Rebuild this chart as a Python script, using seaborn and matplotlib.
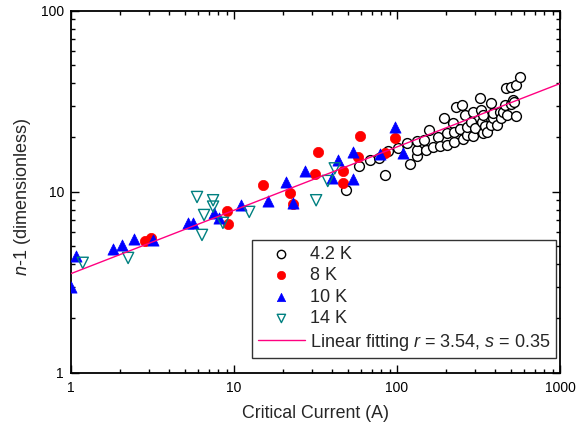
import numpy as np
import pandas as pd
import seaborn as sns
import matplotlib
matplotlib.use('Agg')
import matplotlib.pyplot as plt
from matplotlib.ticker import LogLocator, NullFormatter, FixedFormatter, FixedLocator

# data (critical current in A, n-1)
ic_42K = [48.7, 58.4, 68.4, 77.6, 84.3, 88.2, 101, 114.8, 121, 133, 133, 133, 146, 150,
          157, 167, 178, 184, 194, 202, 202, 220, 225, 225, 230, 250, 243, 254, 262, 267,
          267, 285, 292, 292, 302, 322, 328, 333, 338, 338, 349, 356, 377, 377, 390, 390,
          410, 430, 436, 450, 466, 458, 473, 498, 498, 537, 513, 537, 570, 522]
n_42K = [10.3, 13.9, 15.0, 15.4, 12.4, 16.8, 17.5, 18.6, 14.3, 15.8, 17.1, 19.2, 19.4, 17.1,
         22.0, 17.7, 20.1, 18.0, 25.6, 18.2, 21.2, 24.0, 18.9, 21.5, 29.5, 30.2, 22.3, 19.6, 26.6, 20.6,
         22.9, 24.3, 20.4, 27.6, 22.6, 33.0, 28.3, 24.3, 26.6, 21.2, 23.1, 21.5, 31.0, 23.4, 25.6, 27.3,
         23.4, 27.6, 25.6, 27.6, 37.5, 30.2, 26.6, 38.0, 30.6, 39.0, 32.1, 26.3, 43.1, 31.4]

ic_8K = [2.84, 3.09, 9.04, 9.18, 15.07, 22.1, 23.0, 32.7, 31.3, 46.7, 46.7, 59.3, 57.6, 84.3, 97.5]
n_8K = [5.36, 5.57, 7.86, 6.66, 10.9, 9.87, 8.6, 16.6, 12.6, 13.0, 11.2, 20.4, 15.6, 16.4, 19.9]

ic_10K = [1.0, 1.07, 1.81, 2.05, 2.43, 3.18, 5.22, 5.6, 7.55, 8.1, 11.0, 16.2, 20.8, 23.0,
          27.3, 39.9, 43.5, 53.9, 53.9, 78.7, 97.5, 108.7]
n_10K = [2.99, 4.43, 4.84, 5.10, 5.5, 5.43, 6.75, 6.75, 7.66, 7.2, 8.5, 8.9, 11.4, 8.7,
         13.1, 11.96, 15.0, 11.8, 16.6, 16.2, 22.8, 16.4]

ic_14K = [1.18, 2.24, 6.36, 5.93, 7.44, 7.44, 6.55, 8.55, 12.4, 31.9, 37.6, 41.5]
n_14K = [4.06, 4.32, 5.79, 9.38, 9.0, 8.3, 7.46, 6.75, 7.76, 9.0, 11.5, 13.5]

# fit parameters from the legend: n-1 = r * Ic^s
fit_r = 3.54
fit_s = 0.35
fit_ic = np.logspace(0, 3, 50)
fit_n = fit_r * fit_ic ** fit_s

sns.set_style('ticks')
plt.rcParams['font.family'] = ['Liberation Sans', 'DejaVu Sans']
plt.rcParams['mathtext.fontset'] = 'custom'
plt.rcParams['mathtext.rm'] = 'Liberation Sans'
plt.rcParams['mathtext.it'] = 'Liberation Sans:italic'

fig = plt.figure(figsize=(5.76, 4.32), dpi=100)
ax = fig.add_axes([0.1233, 0.1366, 0.8489, 0.8380])

ms = 50
sns.scatterplot(x=ic_42K, y=n_42K, ax=ax, marker='o', s=ms, facecolor='white',
                edgecolor='black', linewidth=1.0, label='4.2 K', zorder=3)
sns.scatterplot(x=ic_8K, y=n_8K, ax=ax, marker='o', s=ms * 1.1, color='#FF0000',
                edgecolor='#FF0000', linewidth=0.5, label='8 K', zorder=4)
sns.scatterplot(x=ic_10K, y=n_10K, ax=ax, marker='^', s=ms * 1.3, color='#0000FF',
                edgecolor='#0000FF', linewidth=0.5, label='10 K', zorder=4)
sns.scatterplot(x=ic_14K, y=n_14K, ax=ax, marker='v', s=ms * 1.3, facecolor='none',
                edgecolor='#008080', linewidth=1.0, label='14 K', zorder=4)
sns.lineplot(x=fit_ic, y=fit_n, ax=ax, color='#FF0080', linewidth=1.0,
             label='Linear fitting $r$ = 3.54, $s$ = 0.35', zorder=5)

ax.set_xscale('log')
ax.set_yscale('log')
ax.set_xlim(1, 1000)
ax.set_ylim(1, 100)

ax.xaxis.set_major_locator(FixedLocator([1, 10, 100, 1000]))
ax.xaxis.set_major_formatter(FixedFormatter(['1', '10', '100', '1000']))
ax.yaxis.set_major_locator(FixedLocator([1, 10, 100]))
ax.yaxis.set_major_formatter(FixedFormatter(['1', '10', '100']))
for axis in (ax.xaxis, ax.yaxis):
    axis.set_minor_locator(LogLocator(base=10, subs=np.arange(2, 10)))
    axis.set_minor_formatter(NullFormatter())

ax.tick_params(which='both', direction='in', top=True, right=True, width=1.0,
               labelsize=10, colors='black')
ax.tick_params(which='major', length=6)
ax.tick_params(which='minor', length=3)
ax.tick_params(axis='x', pad=6)
ax.tick_params(axis='y', pad=5)
for sp in ax.spines.values():
    sp.set_linewidth(1.3)
    sp.set_color('black')

ax.set_xlabel('Critical Current (A)', fontsize=12.8, labelpad=7)
ax.set_ylabel('$n$-1 (dimensionless)', fontsize=13)
ax.yaxis.set_label_coords(-0.078, 0.486)

leg = ax.legend(loc='lower right', bbox_to_anchor=(0.992, 0.041), borderaxespad=0,
                fontsize=13, frameon=True, fancybox=False, edgecolor='black',
                handlelength=2.6, handletextpad=0.3, labelspacing=0.25,
                borderpad=0.3, scatterpoints=1)
leg.get_frame().set_linewidth(1.0)
for h in leg.legend_handles[:4]:
    h.set_sizes([36])

fig.savefig('out.png', dpi=100)
